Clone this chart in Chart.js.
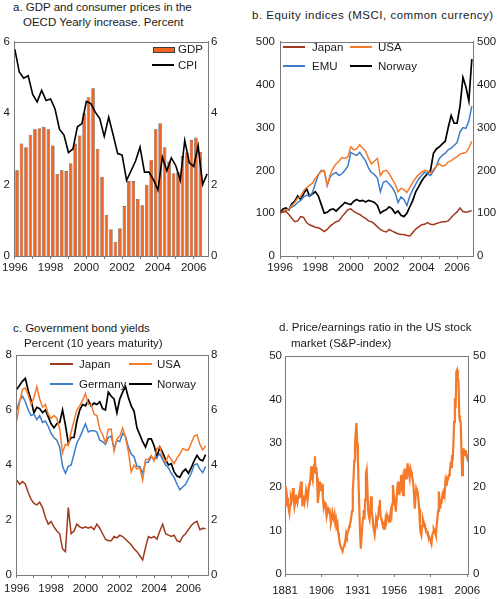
<!DOCTYPE html>
<html>
<head>
<meta charset="utf-8">
<script src="https://cdn.jsdelivr.net/npm/chart.js@4.4.1/dist/chart.umd.min.js"></script>
<style>
  body { margin: 0; width: 500px; height: 599px; background: #fff; position: relative; overflow: hidden;
         font-family: 'Liberation Sans', Arial, sans-serif; font-size: 11.5px; color: #1a1a1a; }
  canvas { position: absolute; }
  .t { position: absolute; white-space: nowrap; line-height: 14px; }
  .sw { position: absolute; height: 2px; }
</style>
</head>
<body>
<canvas id="gdpChart" width="240" height="250" style="left:0;top:30px"></canvas>
<canvas id="equityChart" width="250" height="250" style="left:250px;top:30px"></canvas>
<canvas id="bondChart" width="240" height="259" style="left:0;top:340px"></canvas>
<canvas id="peChart" width="250" height="259" style="left:250px;top:340px"></canvas>

<!-- titles -->
<div class="t" style="left:13px;top:0px">a. GDP and consumer prices in the</div>
<div class="t" style="left:23px;top:15px">OECD Yearly increase. Percent</div>
<div class="t" style="left:252px;top:8px;letter-spacing:0.5px">b. Equity indices (MSCI, common currency)</div>
<div class="t" style="left:13px;top:321px">c. Government bond yields</div>
<div class="t" style="left:24px;top:336px">Percent (10 years maturity)</div>
<div class="t" style="left:279px;top:320px">d. Price/earnings ratio in the US stock</div>
<div class="t" style="left:291px;top:336px">market (S&amp;P-index)</div>

<!-- legends -->
<div style="position:absolute;left:153px;top:47px;width:20px;height:4px;background:#F26522;border:1px solid #3a3a3a"></div>
<div class="t" style="left:178px;top:42px">GDP</div>
<div class="sw" style="left:152px;top:64px;width:22px;background:#000"></div>
<div class="t" style="left:178px;top:58px">CPI</div>

<div class="sw" style="left:283px;top:46px;width:22px;background:#A0391F"></div>
<div class="t" style="left:312px;top:40px">Japan</div>
<div class="sw" style="left:350px;top:46px;width:22px;background:#F47A2A"></div>
<div class="t" style="left:378px;top:40px">USA</div>
<div class="sw" style="left:283px;top:65px;width:22px;background:#3D7CC9"></div>
<div class="t" style="left:312px;top:59px">EMU</div>
<div class="sw" style="left:350px;top:65px;width:22px;background:#000"></div>
<div class="t" style="left:378px;top:59px">Norway</div>

<div class="sw" style="left:50px;top:363px;width:23px;background:#A0391F"></div>
<div class="t" style="left:79px;top:357px">Japan</div>
<div class="sw" style="left:129px;top:363px;width:23px;background:#F47A2A"></div>
<div class="t" style="left:157px;top:357px">USA</div>
<div class="sw" style="left:50px;top:383px;width:23px;background:#3D7CC9"></div>
<div class="t" style="left:79px;top:377px">Germany</div>
<div class="sw" style="left:129px;top:383px;width:23px;background:#000"></div>
<div class="t" style="left:157px;top:377px">Norway</div>

<script>
// a. GDP (quarterly bars, 1996Q1-2006Q2) and CPI (quarterly line)
const gdp = [2.4,3.15,3.05,3.4,3.55,3.58,3.62,3.55,3.1,2.3,2.4,2.38,2.6,3.15,3.38,4.0,4.45,4.7,3.0,2.22,1.15,0.75,0.4,0.78,1.4,2.1,2.1,1.6,1.42,2.0,2.7,3.55,3.72,3.05,2.65,2.32,2.35,2.8,2.9,3.25,3.32,2.92];
const cpi = [5.8,5.16,4.98,5.05,4.53,4.32,4.64,4.36,4.4,4.12,3.55,3.39,2.9,3.0,3.62,3.71,4.33,4.27,4.03,3.85,3.35,3.89,3.39,2.87,2.83,2.12,2.39,2.66,3.05,2.35,2.35,2.14,1.85,2.77,2.39,2.75,2.53,2.12,3.24,2.62,2.51,3.09,2.0,2.3];

// b. Equity indices, every second month from Jan 1996
const japanEq = [100,103,104,97,88,80, 82,92,90,78,73,70, 67,66,62,57,62,70, 75,80,82,92,100,108, 110,104,100,97,92,88, 82,80,75,68,62,58, 56,62,58,55,52,50, 50,48,47,55,63,68, 73,74,78,74,73,76, 78,80,80,82,90,97, 103,112,104,102,104,106];
const usaEq = [100,104,108,110,118,125, 135,140,152,160,165,170, 182,190,198,200,165,190, 205,215,222,230,228,232, 255,248,250,260,252,245, 228,215,222,228,188,198, 200,192,180,168,150,158, 155,148,160,172,182,190, 196,200,198,194,202,210, 215,210,212,220,222,228, 232,238,240,242,252,268];
const emuEq = [100,103,106,110,114,118, 125,130,138,142,140,148, 170,190,200,198,165,185, 192,195,188,192,200,210, 242,238,235,242,232,222, 205,195,190,182,150,172, 175,168,160,148,125,138, 132,118,140,155,168,180, 188,196,192,188,198,210, 228,235,240,248,252,258, 265,290,300,298,315,350];
const norwayEq = [100,110,112,108,122,128, 140,132,145,157,140,145, 150,140,120,100,102,108, 110,105,112,118,125,122, 120,128,132,128,130,126, 130,128,125,118,100,105, 108,115,110,100,105,95, 92,100,115,130,150,162, 175,185,192,200,240,250, 255,262,268,300,328,310, 310,350,417,395,362,460];

// c. 10y government bond yields, every second month from Jan 1996
const japanYield = [3.45,3.3,3.4,3.3,3.0,2.75, 2.6,2.55,2.65,2.45,2.1,1.85, 1.95,1.75,1.6,1.5,0.95,0.85, 2.45,1.5,1.6,1.85,1.75,1.7, 1.75,1.7,1.75,1.65,1.85,1.7, 1.5,1.3,1.25,1.25,1.4,1.35, 1.45,1.4,1.3,1.2,1.1,0.95, 0.85,0.7,0.55,1.0,1.4,1.35, 1.4,1.3,1.6,1.85,1.5,1.45, 1.4,1.45,1.25,1.2,1.4,1.5, 1.65,1.8,1.9,1.95,1.65,1.7, 1.68];
const usaYield = [5.6,6.3,6.75,6.8,6.55,6.2, 6.45,6.85,6.4,6.1,6.2,5.85, 5.7,5.8,5.7,5.3,4.45,4.75, 4.7,5.2,5.6,6.0,6.15,6.35, 6.6,6.2,6.2,5.85,5.8,5.3, 5.1,4.8,5.3,5.3,4.5,4.95, 5.05,5.35,5.0,4.5,3.75,4.0, 3.85,3.9,3.45,4.2,4.2,4.35, 4.15,4.6,4.65,4.3,4.1,4.35, 4.2,4.05,4.25,4.4,4.6,4.55, 4.55,4.8,5.05,5.1,4.75,4.55, 4.7];
const germanyYield = [6.0,6.35,6.5,6.3,6.0,5.8, 5.85,5.65,5.8,5.55,5.6,5.4, 5.15,5.0,4.9,4.65,3.95,3.7, 3.95,4.0,4.4,4.8,5.0,5.25, 5.5,5.2,5.25,5.25,5.2,4.9, 4.85,4.75,5.0,5.05,4.6,4.9, 4.85,5.15,5.05,4.65,4.4,4.3, 3.95,3.95,3.7,4.1,4.1,4.3, 4.2,4.3,4.4,4.2,4.0,3.9, 3.7,3.55,3.3,3.1,3.2,3.3, 3.5,3.7,4.0,4.05,3.85,3.72, 3.95];
const norwayYield = [6.75,6.9,7.05,7.15,6.7,6.35, 5.9,6.1,6.05,5.9,6.0,5.75, 5.5,5.35,5.5,5.55,6.0,5.45, 4.8,5.0,5.0,5.6,6.0,6.2, 6.15,6.35,6.15,6.25,6.2,6.3, 6.05,6.0,6.65,6.5,6.4,5.9, 6.4,6.65,6.85,6.45,6.15,5.95, 5.35,5.1,4.85,4.65,4.95,4.95, 4.7,4.3,4.65,4.45,4.2,4.0, 4.05,3.75,3.6,3.55,3.75,3.85, 3.7,3.9,4.15,4.35,4.2,4.15, 4.38];

// d. US P/E ratio, half-yearly from 1881
const peRatio = [
  20.2,17.0,15.5,17.5,16.2,15.0,14.0,16.0,17.5,16.8,  18.0,19.7,17.5,15.5,16.5,18.2,17.0,16.3,17.5,18.0,
  19.0,17.5,21.2,19.5,15.5,17.0,18.0,16.5,17.5,19.3,  18.5,17.0,18.6,20.5,21.0,22.0,24.7,22.5,21.6,24.0,
  25.0,27.0,23.0,24.5,22.0,16.3,18.0,19.5,21.2,19.0,  20.5,20.5,17.5,15.5,16.5,16.3,14.8,13.2,14.2,15.0,
  14.5,14.7,13.5,11.7,12.5,14.0,13.0,12.5,13.5,11.7,  12.5,11.0,11.5,9.4,8.5,7.1,6.5,6.0,5.6,5.2,
  6.0,6.5,7.1,8.0,9.4,8.8,9.5,10.0,10.9,11.5,         12.0,13.2,14.5,19.3,22.0,26.0,29.5,32.5,34.6,30.0,
  26.2,20.0,14.7,9.0,5.8,8.5,10.9,13.0,14.7,12.5,     17.0,23.1,23.9,20.0,14.5,13.2,12.5,15.0,17.8,14.5,
  13.0,11.0,10.0,9.0,10.5,12.7,12.0,12.5,13.5,15.5,   17.0,13.5,12.7,12.0,11.2,11.5,10.4,11.0,12.7,12.0,
  13.5,13.0,12.5,12.0,13.0,14.3,13.5,16.0,20.4,18.5,  17.3,16.0,14.3,17.0,19.5,21.2,19.5,18.1,20.5,22.7,
  20.5,21.5,18.1,20.0,24.2,22.5,21.9,23.0,25.4,24.0,  23.1,22.0,24.2,23.5,22.5,21.9,20.4,18.0,15.0,17.5,
  19.6,19.0,18.9,17.0,15.0,11.5,9.5,8.9,11.0,12.7,    12.0,11.5,10.8,10.4,9.8,9.7,9.0,8.8,8.5,8.0,
  7.4,7.0,8.9,9.5,10.4,10.0,9.5,8.9,11.0,12.7,        14.5,18.9,17.0,15.0,16.5,17.0,18.1,17.5,19.6,18.5,
  21.2,20.5,21.9,21.5,22.0,22.7,23.5,25.0,24.5,27.3,  26.0,30.0,34.9,40.3,38.0,46.4,46.8,45.0,44.1,36.4,
  35.0,34.9,28.0,22.7,26.0,28.8,27.5,27.3,28.4,27.0,  26.5,27.5
];

const yearTicks = [1996,1997,1998,1999,2000,2001,2002,2003,2004,2005,2006];
const peTicks = [1881,1906,1931,1956,1981,2006];

Chart.defaults.font.family = "'Liberation Sans', Arial, sans-serif";
Chart.defaults.font.size = 11.5;
Chart.defaults.color = '#1a1a1a';
const AXIS = '#7a7a7a';

// top edge of the frame (left/right/bottom come from the axes)
const frameTop = {
  id: 'frameTop',
  afterDraw(chart) {
    const { ctx, chartArea: a } = chart;
    ctx.save();
    ctx.strokeStyle = AXIS; ctx.lineWidth = 1;
    ctx.beginPath(); ctx.moveTo(a.left, Math.round(a.top) + 0.5); ctx.lineTo(a.right, Math.round(a.top) + 0.5); ctx.stroke();
    ctx.restore();
  }
};

const xAxis = (min, max, ticks, showLabel, pad, height) => ({
  type: 'linear', min, max, offset: false,
  grid: { drawOnChartArea: false, offset: false, tickLength: 3, color: AXIS },
  border: { color: AXIS },
  ticks: { autoSkip: false, maxRotation: 0, padding: pad, callback: v => showLabel(v) ? String(v) : '' },
  afterBuildTicks: s => { s.ticks = ticks.map(v => ({ value: v })); },
  afterFit: s => { s.height = height; }
});
const yAxis = (position, max, step, pad, width) => ({
  position, min: 0, max,
  grid: { display: false, drawTicks: false },
  border: { color: AXIS },
  ticks: { stepSize: step, padding: pad },
  afterFit: s => { s.width = width; }
});
const series = (values, start, step, color, width = 1.5) => ({
  type: 'line',
  data: values.map((v, i) => ({ x: start + i * step, y: v })),
  borderColor: color, borderWidth: width, pointRadius: 0, tension: 0
});
const baseOptions = (scales, top) => ({
  responsive: false, animation: false,
  layout: { padding: { top } },
  plugins: { legend: { display: false }, tooltip: { enabled: false } },
  scales
});
const evenYear = v => v % 2 === 0;

// a. GDP and CPI
new Chart(document.getElementById('gdpChart'), {
  type: 'bar',
  data: {
    datasets: [
      series(cpi, 1996, 0.25, '#000', 1.6),
      {
        type: 'bar',
        data: gdp.map((v, i) => ({ x: 1996.125 + i * 0.25, y: v })),
        backgroundColor: '#F26522', borderColor: '#4a4a4a', borderWidth: 0.6,
        barPercentage: 0.8, categoryPercentage: 1
      }
    ]
  },
  options: baseOptions({
    x: xAxis(1996, 2006.8, yearTicks, evenYear, 2, 24),
    y: yAxis('left', 6, 2, 5, 13),
    y2: yAxis('right', 6, 2, 3, 32)
  }, 7),
  plugins: [frameTop]
});

// b. Equity indices
new Chart(document.getElementById('equityChart'), {
  type: 'line',
  data: {
    datasets: [
      series(japanEq, 1996, 1/6, '#A0391F'),
      series(usaEq, 1996, 1/6, '#F47A2A'),
      series(emuEq, 1996, 1/6, '#3D7CC9'),
      series(norwayEq, 1996, 1/6, '#000', 1.7)
    ]
  },
  options: baseOptions({
    x: xAxis(1996, 2006.9, yearTicks, evenYear, 2, 24),
    y: yAxis('left', 500, 100, 5, 30),
    y2: yAxis('right', 500, 100, 4, 27)
  }, 7),
  plugins: [frameTop]
});

// c. Government bond yields
new Chart(document.getElementById('bondChart'), {
  type: 'line',
  data: {
    datasets: [
      series(japanYield, 1996, 1/6, '#A0391F'),
      series(usaYield, 1996, 1/6, '#F47A2A'),
      series(germanyYield, 1996, 1/6, '#3D7CC9'),
      series(norwayYield, 1996, 1/6, '#000', 1.7)
    ]
  },
  options: baseOptions({
    x: xAxis(1996, 2007.14, yearTicks, evenYear, 4, 24),
    y: yAxis('left', 8, 2, 5, 13),
    y2: yAxis('right', 8, 2, 3, 32)
  }, 15),
  plugins: [frameTop]
});

// d. P/E ratio
new Chart(document.getElementById('peChart'), {
  type: 'line',
  data: { datasets: [ series(peRatio, 1881, 0.5, '#F47A2A', 2.2) ] },
  options: baseOptions({
    x: xAxis(1881, 2006.5, peTicks, () => true, 7, 25),
    y: yAxis('left', 50, 10, 3, 35),
    y2: yAxis('right', 50, 10, 5, 32)
  }, 16),
  plugins: [frameTop]
});
</script>
</body>
</html>
